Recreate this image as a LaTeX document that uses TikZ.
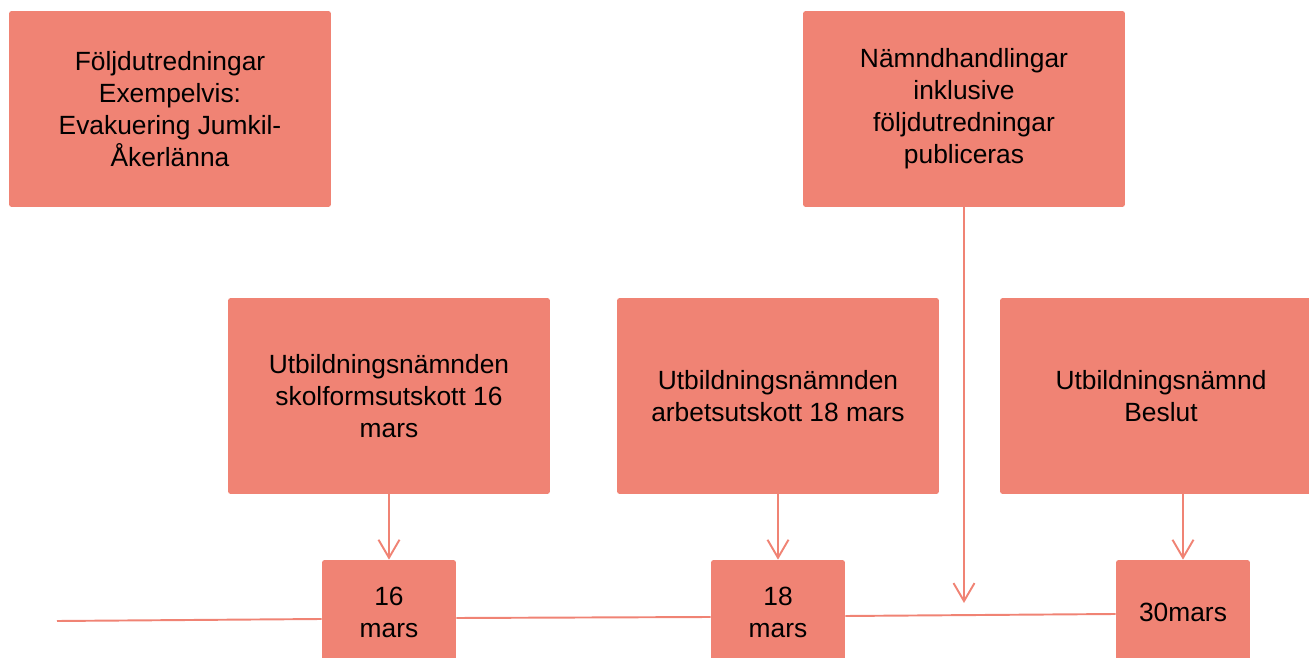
\documentclass[tikz,border=0pt]{standalone}
\usepackage{fontspec}
\setmainfont{Liberation Sans}
\usetikzlibrary{arrows.meta,positioning}
\definecolor{laxrosa}{RGB}{240,131,116}

\begin{document}
\begin{tikzpicture}[
    x=0.02cm, y=-0.02cm,
    box/.style={fill=laxrosa, rounded corners=1.5pt, align=center, inner sep=2pt,
        font=\fontsize{15}{18.2}\selectfont, minimum width=6.44cm, minimum height=3.92cm},
    datum/.style={box, minimum width=2.68cm, minimum height=2.08cm},
    linje/.style={draw=laxrosa, line width=1.1pt},
    pil/.style={linje, -{Straight Barb[length=3.6mm, width=4.2mm, line width=1.1pt]}}
]
\useasboundingbox (0,0) rectangle (1309,658);
\node[box] (folj) at (170,109) {Följdutredningar\\ Exempelvis:\\ Evakuering Jumkil-\\ Åkerlänna};
\node[box] (handl) at (964,109) {Nämndhandlingar\\ inklusive\\ följdutredningar\\ publiceras};
\node[box] (skolform) at (389,396) {Utbildningsnämnden\\ skolformsutskott 16\\ mars};
\node[box] (arbets) at (778,396) {Utbildningsnämnden\\ arbetsutskott 18 mars};
\node[box] (beslut) at (1161,396) {Utbildningsnämnd\\ Beslut};
\node[datum] (d16) at (389,612) {16\\ mars};
\node[datum] (d18) at (778,612) {18\\ mars};
\node[datum] (d30) at (1183,612) {30mars};
\coordinate (start) at (57,621);
\coordinate (publ) at (964,603);
% tidslinje
\draw[linje] (start) -- ([yshift=-0.14cm]d16.west);
\draw[linje] ([yshift=-0.12cm]d16.east) -- ([yshift=-0.1cm]d18.west);
\draw[linje] ([yshift=-0.08cm]d18.east) -- ([yshift=-0.04cm]d30.west);
% pilar
\draw[pil] (d16.north |- skolform.south) -- (d16.north);
\draw[pil] (d18.north |- arbets.south) -- (d18.north);
\draw[pil] (d30.north |- beslut.south) -- (d30.north);
\draw[pil] (handl.south) -- (publ);
\end{tikzpicture}
\end{document}
